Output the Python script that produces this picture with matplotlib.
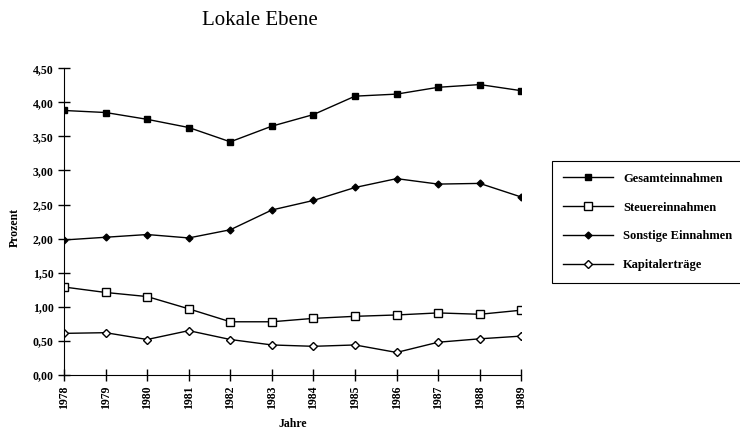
import matplotlib.pyplot as plt

plt.rcParams['font.family'] = ['Liberation Serif', 'DejaVu Serif']

jahre = [1978, 1979, 1980, 1981, 1982, 1983, 1984, 1985, 1986, 1987, 1988, 1989]
gesamt = [3.88, 3.85, 3.75, 3.63, 3.42, 3.65, 3.82, 4.09, 4.12, 4.22, 4.26, 4.17]
steuer = [1.29, 1.21, 1.15, 0.97, 0.78, 0.78, 0.83, 0.86, 0.88, 0.91, 0.89, 0.95]
sonstige = [1.98, 2.02, 2.06, 2.01, 2.13, 2.42, 2.56, 2.75, 2.88, 2.80, 2.81, 2.61]
kapital = [0.61, 0.62, 0.52, 0.65, 0.52, 0.44, 0.42, 0.44, 0.33, 0.48, 0.53, 0.57]
y_ticks = [0, 0.5, 1.0, 1.5, 2.0, 2.5, 3.0, 3.5, 4.0, 4.5]

fig = plt.figure(figsize=(7.4, 4.29), dpi=100)
ax = fig.add_axes([0.0865, 0.126, 0.618, 0.715])

ax.plot(jahre, gesamt, color='black', lw=1, marker='s', ms=5, mfc='black', label='Gesamteinnahmen')
ax.plot(jahre, steuer, color='black', lw=1, marker='s', ms=6, mfc='white', label='Steuereinnahmen')
ax.plot(jahre, sonstige, color='black', lw=1, marker='D', ms=3.5, mfc='black', label='Sonstige Einnahmen')
ax.plot(jahre, kapital, color='black', lw=1, marker='D', ms=4.5, mfc='white', label='Kapitalerträge')

ax.set_xlim(1978, 1989)
ax.set_ylim(0, 4.5)
ax.set_xticks(jahre)
ax.set_xticklabels([str(j) for j in jahre], rotation=90, fontsize=8.5, fontweight='bold')
ax.set_yticks(y_ticks)
ax.set_yticklabels([f'{v:.2f}'.replace('.', ',') for v in y_ticks], fontsize=8.5, fontweight='bold')
ax.tick_params(direction='inout', length=8, width=1)
ax.spines['top'].set_visible(False)
ax.spines['right'].set_visible(False)
ax.set_ylabel('Prozent', fontsize=8.5, fontweight='bold')
ax.set_xlabel('Jahre', fontsize=8.5, fontweight='bold')
ax.xaxis.set_label_coords(0.5, -0.14)
ax.yaxis.set_label_coords(-0.095, 0.48)

fig.text(0.351, 0.953, 'Lokale Ebene', fontsize=15, ha='center', va='center')

leg = fig.legend(loc='center left', bbox_to_anchor=(0.746, 0.345, 0.3, 0.275), mode='expand',
                 fontsize=9, frameon=True, fancybox=False, edgecolor='black', framealpha=1,
                 handlelength=4, labelspacing=1.35, borderpad=0.9, borderaxespad=0)
leg.get_frame().set_linewidth(0.8)
for t in leg.get_texts():
    t.set_fontweight('bold')

fig.savefig('out.png', dpi=100)
